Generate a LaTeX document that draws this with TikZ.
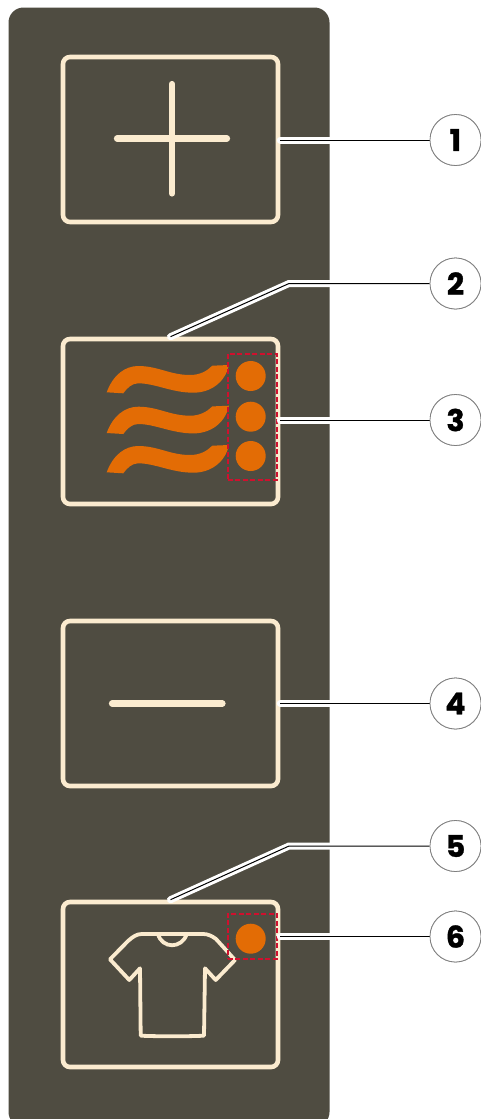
\documentclass[tikz,border=0pt]{standalone}
\usepackage{fontspec}
\usepackage{tikz}
\newfontfamily\numfont{Poppins}[BoldFeatures={FakeBold=1.2}]
\definecolor{panelgrey}{HTML}{4F4C41}
\definecolor{cream}{HTML}{FBEBCF}
\definecolor{heatorange}{HTML}{E36C05}
\definecolor{markred}{HTML}{D0102E}
\tikzset{
	btnbox/.style={draw=cream, line width=4.6pt, rounded corners=7pt, minimum width=215pt, minimum height=165pt},
	numcirc/.style={circle, draw=gray, fill=white, line width=.8pt, minimum size=51pt, inner sep=0pt, font=\numfont\bfseries\fontsize{30}{30}\selectfont},
	leadwhite/.style={draw=white, line width=7pt, line cap=round},
	leadblack/.style={draw=black, line width=1pt},
	markbox/.style={draw=markred, line width=2pt, dash pattern=on 5pt off 2.5pt, minimum width=49pt, inner sep=0pt},
	heatdot/.style={circle, fill=heatorange, minimum size=30pt, inner sep=0pt},
	glyph/.style={draw=cream, line width=6.2pt, line cap=round}
}
\begin{document}
\begin{tikzpicture}[x=1pt, y=-1pt]
	\useasboundingbox (0,0) rectangle (481,1119);
	\fill[white] (0,0) rectangle (481,1119);
	% panel
	\fill[panelgrey, rounded corners=15pt] (8.5,7.5) rectangle (329.5,1127);
	% buttons
	\node[btnbox] (btnAdd) at (170.5,139.5) {};
	\node[btnbox] (btnHeat) at (170.5,421.5) {};
	\node[btnbox] (btnSub) at (170.5,703.5) {};
	\node[btnbox] (btnCloth) at (170.5,984.5) {};
	% plus and minus
	\draw[glyph] (117,138.5) -- (227,138.5);
	\draw[glyph] (172,84) -- (172,193.5);
	\draw[glyph] (112,703.5) -- (222.5,703.5);
	% heat waves
	\foreach \dy in {0,40.7,80} {
		\fill[heatorange, shift={(0,\dy)}] (106.7,392.3) .. controls (113,375) and (125,366) .. (138.3,366)
			.. controls (158,366) and (170,375) .. (190,375)
			.. controls (200,375) and (207,371) .. (212.3,365.7) -- (229,365)
			.. controls (225,383) and (210,392.7) .. (193.3,392.7)
			.. controls (172,392.7) and (155,383.3) .. (138.3,383.3)
			.. controls (132,383.3) and (127,388) .. (123.3,393.3) -- cycle;
	}
	\node[heatdot] (dotA) at (250.7,376) {};
	\node[heatdot] (dotB) at (250.7,416.7) {};
	\node[heatdot] (dotC) at (250.7,456) {};
	\node[markbox, minimum height=126.6pt] (markA) at (252.2,417) {};
	% shirt
	\draw[draw=cream, line width=3.8pt, line join=round, fill=none]
		(141.7,934) -- (186.7,934) -- (203.3,934)
		.. controls (208,934) and (212,936) .. (216,939) -- (235,960) -- (215.7,980) -- (205,968.3)
		-- (204,1035.7) .. controls (185,1036.5) and (160,1036.5) .. (140.7,1035.7) -- (140,968.3)
		-- (129.3,980) -- (110,959.3) -- (128,941) .. controls (133,936.5) and (137,934) .. (141.7,934) -- cycle;
	\draw[draw=cream, line width=3.8pt] (158,934) .. controls (162,949) and (182,949) .. (186.7,934);
	\node[heatdot] (dotD) at (250.7,938.7) {};
	\node[markbox, minimum height=45.6pt] (markB) at (252.2,936.5) {};
	% numbers
	\node[numcirc] (num1) at (455.5,140) {};
	\node[numcirc] (num2) at (455.5,283.5) {};
	\node[numcirc] (num3) at (455.5,420) {};
	\node[numcirc] (num4) at (455.5,703.5) {};
	\node[numcirc] (num5) at (455.5,846) {};
	\node[numcirc] (num6) at (455.5,936.5) {};
	\coordinate (bendA) at (289,283.5);
	\coordinate (bendB) at (289,846);
	% leaders
	\foreach \s in {leadwhite,leadblack} {
		\draw[\s] (btnAdd.east |- num1) -- (num1);
		\draw[\s] (btnHeat.north) -- (bendA) -- (num2);
		\draw[\s] (btnHeat.east |- num3) -- (num3);
		\draw[\s] (btnSub.east |- num4) -- (num4);
		\draw[\s] (btnCloth.north) -- (bendB) -- (num5);
		\draw[\s] (btnCloth.east |- num6) -- (num6);
	}
	\node[numcirc] at (num1) {1};
	\node[numcirc] at (num2) {2};
	\node[numcirc] at (num3) {3};
	\node[numcirc] at (num4) {4};
	\node[numcirc] at (num5) {5};
	\node[numcirc] at (num6) {6};
\end{tikzpicture}
\end{document}
